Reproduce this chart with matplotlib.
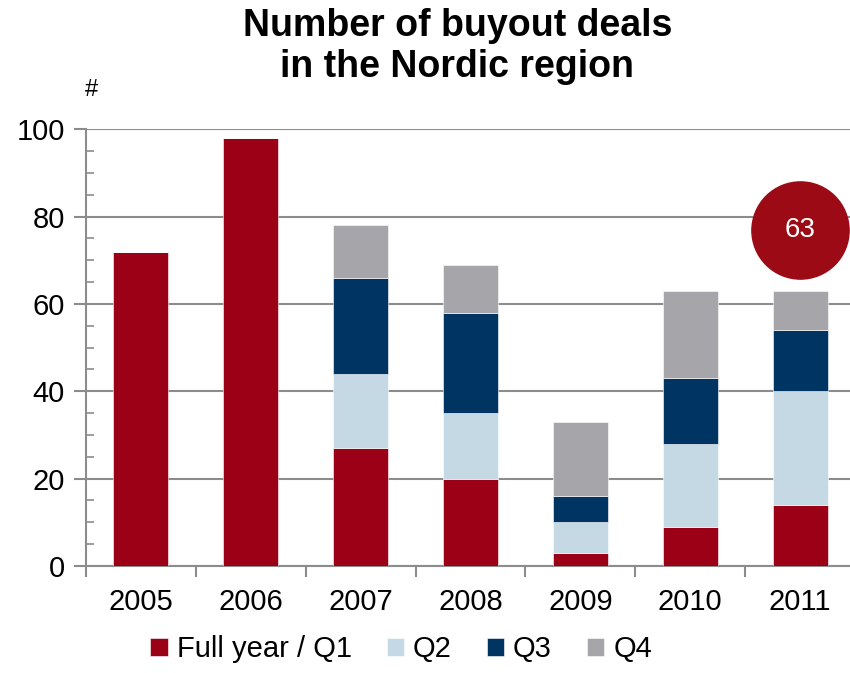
import matplotlib
matplotlib.use("Agg")
import matplotlib.pyplot as plt
import numpy as np
from matplotlib.ticker import MultipleLocator

plt.rcParams['font.family'] = ['Liberation Sans', 'DejaVu Sans']

years = ['2005', '2006', '2007', '2008', '2009', '2010', '2011']
q1 = [72, 98, 27, 20, 3, 9, 14]   # full year for 2005/2006
q2 = [0, 0, 17, 15, 7, 19, 26]
q3 = [0, 0, 22, 23, 6, 15, 14]
q4 = [0, 0, 12, 11, 17, 20, 9]
series = ['Full year / Q1', 'Q2', 'Q3', 'Q4']
colors = ['#9B0016', '#C5D9E5', '#003462', '#A5A5AA']
bubble_value = 63

fig = plt.figure(figsize=(8.5, 6.73), dpi=100)
ax = fig.add_axes([0.101, 0.159, 0.905, 0.649])

x = np.arange(len(years))
bottom = np.zeros(len(years))
for vals, lab, col in zip([q1, q2, q3, q4], series, colors):
    ax.bar(x, vals, 0.5, bottom=bottom, color=col, label=lab, zorder=3,
           edgecolor='white', linewidth=0.4)
    bottom += np.array(vals)

ax.set_xlim(-0.5, len(years) - 0.5)
ax.set_ylim(0, 100)
ax.yaxis.set_major_locator(MultipleLocator(20))
ax.yaxis.set_minor_locator(MultipleLocator(5))
ax.grid(axis='y', color='#8c8c8c', linewidth=1.5, zorder=0)

for s in ['top', 'right']:
    ax.spines[s].set_visible(False)
for s in ['left', 'bottom']:
    ax.spines[s].set_color('#8c8c8c')
    ax.spines[s].set_linewidth(1.5)

ax.set_xticks(x)
ax.set_xticklabels(years, fontsize=21)
ax.set_xticks(np.arange(len(years) + 1) - 0.5, minor=True)
ax.tick_params(axis='x', which='major', length=0, pad=16)
ax.tick_params(axis='x', which='minor', length=8, width=1.5, color='#8c8c8c', direction='out')
ax.tick_params(axis='y', which='major', length=9, width=1.5, color='#8c8c8c', direction='out', labelsize=21, pad=6)
ax.tick_params(axis='y', which='minor', length=6, width=1.2, color='#8c8c8c', direction='in')

# bubble with total for 2011
ax.scatter([len(years) - 1], [77], s=4900, color='#9B0A15', zorder=5, clip_on=False)
ax.text(len(years) - 1, 77, str(bubble_value), color='white', fontsize=20,
        ha='center', va='center', zorder=6)

fig.text(0.538, 0.931, 'Number of buyout deals\nin the Nordic region', ha='center', va='center',
         fontsize=27, fontweight='bold', linespacing=1.15)
fig.text(0.108, 0.866, '#', ha='center', va='center', fontsize=17)

ax.legend(loc='upper center', bbox_to_anchor=(0.41, -0.125), ncol=4, frameon=False,
          fontsize=21, handlelength=0.6, handleheight=0.6, handletextpad=0.3, columnspacing=1.2,
          borderpad=0.0)

fig.savefig('out.png', dpi=100)
